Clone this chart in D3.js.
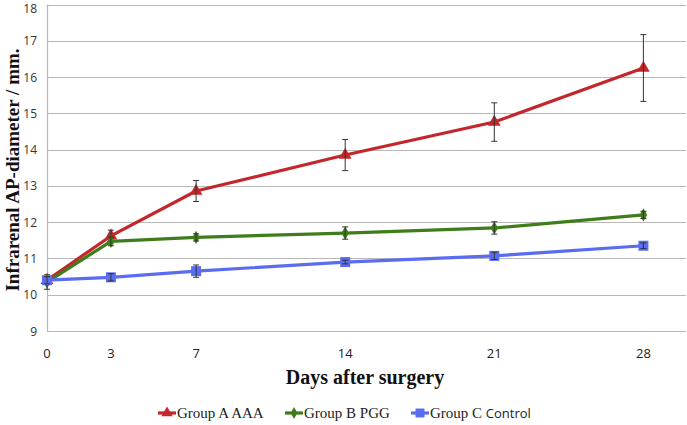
<!DOCTYPE html>
<html><head><meta charset="utf-8">
<script src="https://cdn.jsdelivr.net/npm/d3@7"></script>
<style>body{margin:0;background:#fff}</style>
</head><body>
<svg id="c" width="687" height="425"></svg>
<script>
const days = [0, 3, 7, 14, 21, 28];
const yTicks = [9, 10, 11, 12, 13, 14, 15, 16, 17, 18];
const seriesNames = ["Group A AAA", "Group B PGG", "Group C Control"];
const groupA = [10.4, 11.62, 12.86, 13.85, 14.76, 16.25];
const groupAErr = [0.08, 0.16, 0.29, 0.43, 0.53, 0.92];
const groupB = [10.35, 11.47, 11.58, 11.7, 11.84, 12.2];
const groupBErr = [0.2, 0.12, 0.1, 0.17, 0.17, 0.1];
const groupC = [10.4, 10.48, 10.65, 10.9, 11.07, 11.35];
const groupCErr = [0.1, 0.1, 0.17, 0.05, 0.1, 0.08];
const colors = ["#c3272b", "#3f7d1b", "#5a6cf2"];

const svg = d3.select("#c");
const x = d3.scaleLinear().domain([0, 30]).range([47, 686]);
const y = d3.scaleLinear().domain([9, 18]).range([331, 4.5]);

// gridlines
svg.append("g").selectAll("line").data(yTicks).join("line")
  .attr("x1", 47).attr("x2", 686)
  .attr("y1", d => Math.round(y(d)) + 0.5).attr("y2", d => Math.round(y(d)) + 0.5)
  .attr("stroke", "#b8b8b8").attr("stroke-width", 1.2);
svg.append("line").attr("x1", 47.5).attr("x2", 47.5).attr("y1", y(18)).attr("y2", y(9))
  .attr("stroke", "#b8b8b8").attr("stroke-width", 1.2);

// y tick labels
svg.append("g").selectAll("text").data(yTicks).join("text")
  .attr("x", 37).attr("y", d => Math.max(y(d) + 4.5, 13)).attr("text-anchor", "end")
  .attr("font-family", "Open Sans, sans-serif").attr("font-size", 12).attr("fill", "#333")
  .text(d => d);
// x tick labels
svg.append("g").selectAll("text").data(days).join("text")
  .attr("x", d => x(d)).attr("y", 358).attr("text-anchor", "middle")
  .attr("font-family", "Open Sans, sans-serif").attr("font-size", 13).attr("fill", "#222")
  .text(d => d);

// axis titles
svg.append("text").attr("transform", "translate(19,170) rotate(-90)")
  .attr("text-anchor", "middle").attr("font-family", "Liberation Serif, serif")
  .attr("font-weight", "bold").attr("font-size", 19).attr("fill", "#111")
  .text("Infrarenal AP-diameter / mm.");
svg.append("text").attr("x", 365).attr("y", 384)
  .attr("text-anchor", "middle").attr("font-family", "Liberation Serif, serif")
  .attr("font-weight", "bold").attr("font-size", 20).attr("fill", "#111")
  .text("Days after surgery");

const series = [
  {vals: groupA, err: groupAErr, sym: d3.symbolTriangle, size: 70},
  {vals: groupB, err: groupBErr, sym: d3.symbolDiamond, size: 50},
  {vals: groupC, err: groupCErr, sym: d3.symbolSquare, size: 100}
];
const line = d3.line().x((d, i) => x(days[i])).y(d => y(d));

series.forEach((s, k) => {
  svg.append("path").datum(s.vals).attr("d", line).attr("fill", "none")
    .attr("stroke", colors[k]).attr("stroke-width", 3.2).attr("stroke-linejoin", "round");
});
series.forEach((s, k) => {
  const g = svg.append("g");
  g.selectAll("path.m").data(s.vals).join("path")
    .attr("transform", (d, i) => `translate(${x(days[i])},${y(d)})`)
    .attr("d", d3.symbol().type(s.sym).size(s.size)).attr("fill", colors[k]);
  const eb = g.selectAll("g.e").data(s.vals).join("g");
  eb.append("line").attr("x1", (d, i) => x(days[i])).attr("x2", (d, i) => x(days[i]))
    .attr("y1", (d, i) => y(d + s.err[i])).attr("y2", (d, i) => y(d - s.err[i]))
    .attr("stroke", "#333").attr("stroke-width", 1);
  [1, -1].forEach(sg => {
    eb.append("line").attr("x1", (d, i) => x(days[i]) - 3).attr("x2", (d, i) => x(days[i]) + 3)
      .attr("y1", (d, i) => y(d + sg * s.err[i])).attr("y2", (d, i) => y(d + sg * s.err[i]))
      .attr("stroke", "#333").attr("stroke-width", 1);
  });
});

// legend
const legX = [158, 285, 411];
const leg = svg.append("g");
seriesNames.forEach((name, k) => {
  const gx = legX[k], gy = 413;
  leg.append("line").attr("x1", gx).attr("x2", gx + 18).attr("y1", gy).attr("y2", gy)
    .attr("stroke", colors[k]).attr("stroke-width", 3.2);
  leg.append("path").attr("transform", `translate(${gx + 9},${gy})`)
    .attr("d", d3.symbol().type(series[k].sym).size(series[k].size * 0.8)).attr("fill", colors[k]);
  const t = leg.append("text").attr("x", gx + 19).attr("y", gy + 5)
    .attr("font-family", "'Liberation Serif', 'DejaVu Serif', serif").attr("font-size", 15).attr("fill", "#222");
  if (k === 2) {
    t.append("tspan").text("Group C ");
    t.append("tspan").attr("font-family", "'Open Sans', sans-serif").attr("font-size", 13).text("Control");
  } else {
    t.text(name);
  }
});
</script>
</body></html>
